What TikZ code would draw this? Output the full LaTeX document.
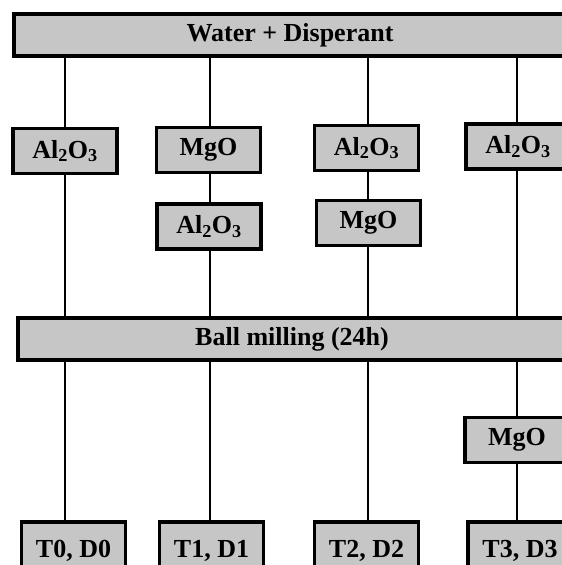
\documentclass[tikz,border=0pt]{standalone}
\usepackage{fontspec}
\setmainfont{Liberation Serif}
\usetikzlibrary{backgrounds}
\newcommand{\alo}{Al\textsubscript{2}O\textsubscript{3}}

\begin{document}
\begin{tikzpicture}[x=1pt, y=-1pt,
    matbox/.style={draw, line width=3.4pt, fill=gray!45, minimum width=104pt, minimum height=45pt,
                 inner sep=0pt, font=\fontsize{26}{30}\bfseries},
    procbar/.style={matbox, minimum height=42pt},
    sample/.style={matbox, minimum height=58pt},
    link/.style={line width=1.6pt},
]
\useasboundingbox (0,0) rectangle (562,565);
\clip (0,0) rectangle (562,565);

% process steps
\node[procbar, minimum width=552pt] (water) at (290,35) {Water + Disperant};
\node[procbar, minimum width=548pt] (ball) at (292,339) {Ball milling (24h)};

% column positions
\coordinate (c1) at (65,0);
\coordinate (c2) at (210,0);
\coordinate (c3) at (368,0);
\coordinate (c4) at (517,0);

% powders added before milling
\node[matbox] (a1) at (65,151) {\alo};
\node[matbox] (m2) at (208.5,150) {MgO};
\node[matbox] (a2) at (209,226.5) {\alo};
\node[matbox] (a3) at (366.5,148) {\alo};
\node[matbox] (m3) at (368.5,223) {MgO};
\node[matbox] (a4) at (518,146.5) {\alo};

% powder added after milling
\node[matbox] (m4) at (517,440) {MgO};

% samples
\node[sample] (t0) at (73.5,551) {T0, D0};
\node[sample] (t1) at (211.5,551) {T1, D1};
\node[sample] (t2) at (366.5,551) {T2, D2};
\node[sample] (t3) at (520,551) {T3, D3};

\begin{scope}[on background layer]
\foreach \a/\b/\c in {water/a1/c1,a1/ball/c1,ball/t0/c1,
                      water/m2/c2,m2/a2/c2,a2/ball/c2,ball/t1/c2,
                      water/a3/c3,a3/m3/c3,m3/ball/c3,ball/t2/c3,
                      water/a4/c4,a4/ball/c4,ball/m4/c4,m4/t3/c4}{
  \draw[link] (\a -| \c) -- (\b -| \c);
}
\end{scope}

\end{tikzpicture}
\end{document}
